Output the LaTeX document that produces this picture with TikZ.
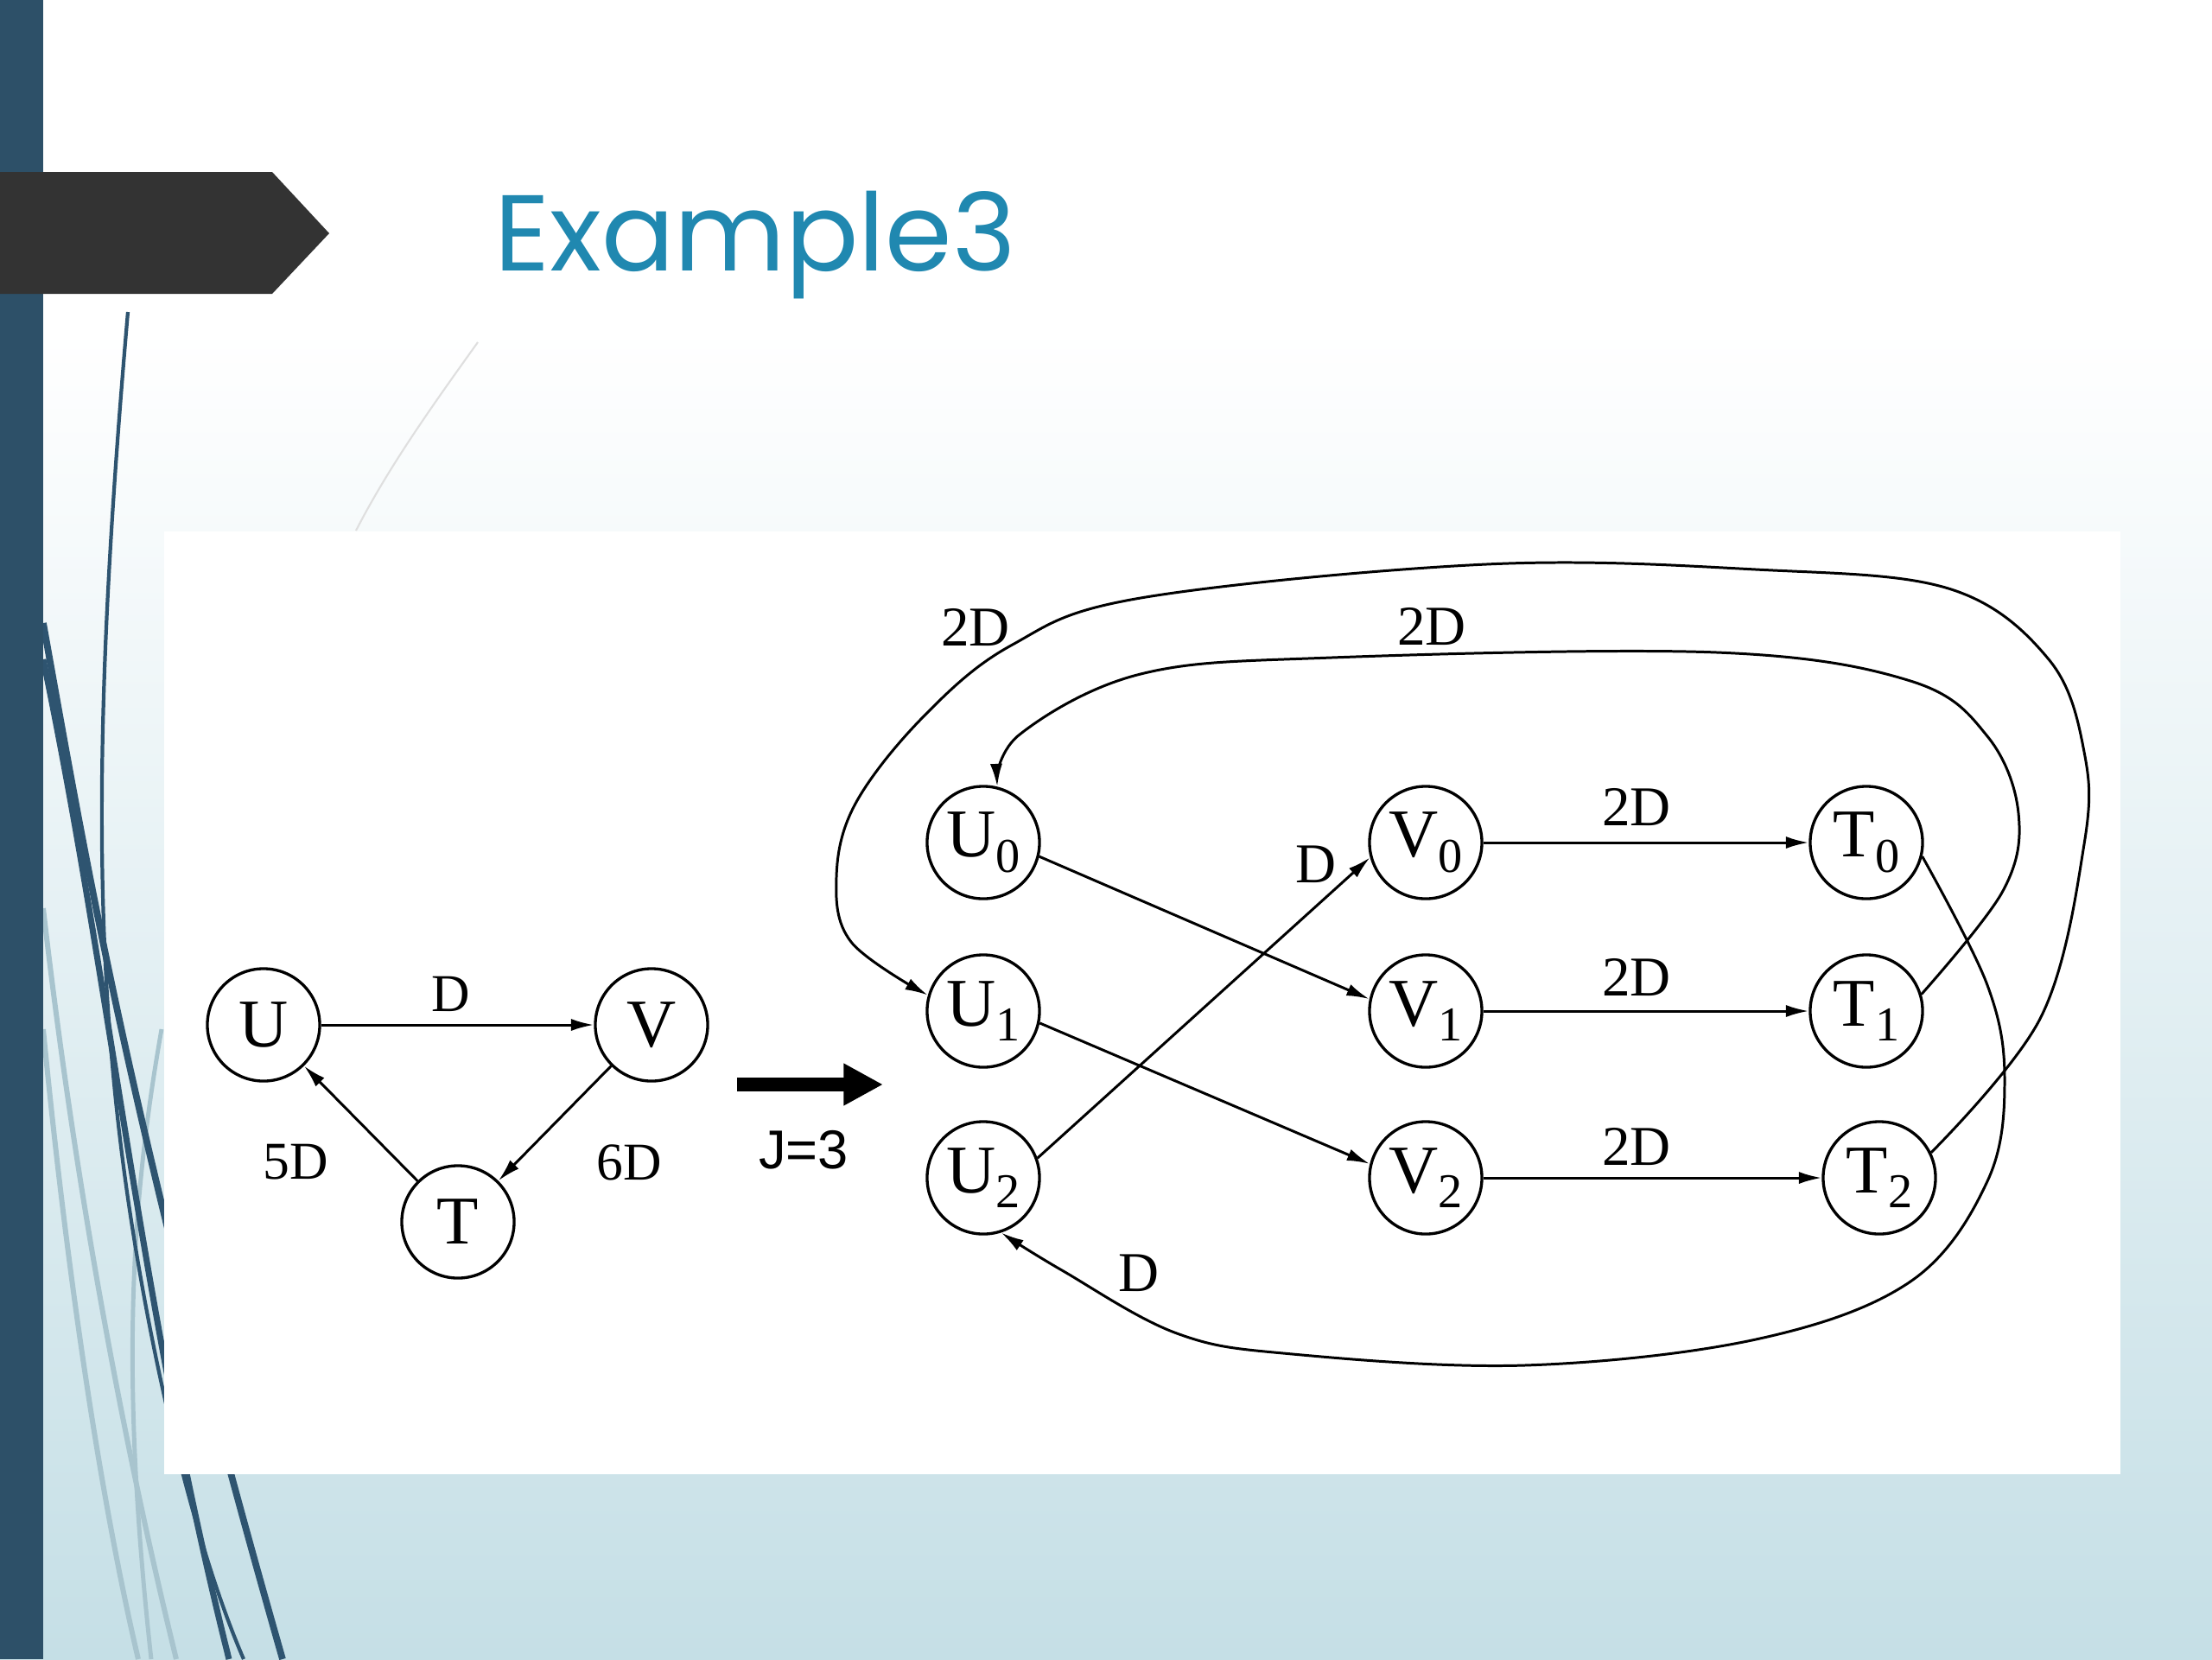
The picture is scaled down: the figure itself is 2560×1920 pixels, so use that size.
\documentclass[tikz,border=0pt]{standalone}
\usepackage{fontspec}
\setmainfont{Liberation Serif}
\newfontfamily\titlefont{Poppins}
\newfontfamily\labelfont{Liberation Sans}
\usetikzlibrary{arrows.meta}

\definecolor{slidebar}{RGB}{45,80,104}
\definecolor{slideband}{RGB}{51,51,51}
\definecolor{slidetitle}{RGB}{32,136,176}
\definecolor{slidesky}{RGB}{197,223,230}
\definecolor{swirldark}{RGB}{46,84,112}
\definecolor{swirllight}{RGB}{168,196,206}

\newcommand{\sub}[2]{#1\raisebox{-5pt}{\fontsize{16}{16}\selectfont #2}}

\tikzset{
  vertex/.style={circle,draw,line width=0.95pt,minimum size=1.3cm,inner sep=0pt,
    font=\fontsize{22.5}{22.5}\selectfont},
  link/.style={-{Latex[length=7.5pt,width=4pt]},line width=0.85pt},
  wlabel/.style={inner sep=0pt,font=\fontsize{18.5}{18.5}\selectfont},
  slabel/.style={inner sep=0pt,font=\fontsize{17.5}{17.5}\selectfont},
}

\begin{document}
\begin{tikzpicture}[x=0.01cm,y=-0.01cm]
\useasboundingbox (0,0) rectangle (2560,1920);

% slide background
\fill[white] (0,0) rectangle (2560,1920);
\shade[top color=white,bottom color=slidesky] (0,380) rectangle (2560,1920);

% swirls on the left
\draw[swirllight,line width=1.7pt] (50,1051) .. controls (90,1400) and (150,1700) .. (204,1920);
\draw[swirllight,line width=1.7pt] (50,1191) .. controls (80,1500) and (120,1750) .. (160,1920);
\draw[swirllight,line width=1.4pt] (187,1191) .. controls (150,1400) and (140,1600) .. (175,1920);
\draw[swirldark,line width=1.2pt] (148,361) .. controls (110,800) and (105,1100) .. (150,1400)
  .. controls (180,1600) and (230,1800) .. (282,1920);
\draw[swirldark,line width=2.2pt] (50,721) .. controls (100,1000) and (150,1300) .. (327,1920);
\draw[swirldark,line width=2pt] (50,763) .. controls (130,1150) and (160,1500) .. (265,1920);
\draw[gray!25,line width=0.6pt] (553,396) .. controls (500,470) and (450,540) .. (412,614);

% bar, band and title
\fill[slidebar] (0,0) rectangle (50,1920);
\fill[slideband] (0,199) -- (315,199) -- (381,270) -- (315,340) -- (0,340) -- cycle;
\node[anchor=base west,inner sep=0pt,text=slidetitle,
  font=\titlefont\fontsize{35.5}{35.5}\selectfont] (title) at (572,313) {Example3};

% picture panel
\fill[white] (190,615) rectangle (2454,1706);

% loop U V T
\node[vertex] (U) at (305,1186) {U};
\node[vertex] (V) at (754,1186) {V};
\node[vertex] (T) at (530,1414) {T};
\draw[link] (U) -- (V);
\draw[link] (V) -- (T);
\draw[link] (T) -- (U);
\node[slabel] (lUV) at (522,1150) {D};
\node[slabel] (lTU) at (342,1345) {5D};
\node[slabel] (lVT) at (728,1345) {6D};

% unfolding arrow
\coordinate (jfrom) at (853,1255);
\coordinate (jto) at (1022,1255);
\draw[line width=4.8pt,-{Triangle[length=13pt,width=13pt]}] (jfrom) -- (jto);
\node[inner sep=0pt,font=\labelfont\fontsize{18}{18}\selectfont] (jlabel) at (930,1331) {J=3};

% unfolded graph
\node[vertex] (U0) at (1138,975) {\sub{U}{0}};
\node[vertex] (U1) at (1138,1170) {\sub{U}{1}};
\node[vertex] (U2) at (1138,1363) {\sub{U}{2}};
\node[vertex] (V0) at (1650,975) {\sub{V}{0}};
\node[vertex] (V1) at (1650,1170) {\sub{V}{1}};
\node[vertex] (V2) at (1650,1363) {\sub{V}{2}};
\node[vertex] (T0) at (2160,975) {\sub{T}{0}};
\node[vertex] (T1) at (2160,1170) {\sub{T}{1}};
\node[vertex] (T2) at (2175,1363) {\sub{T}{2}};

\draw[link] (U0.-14) -- (V1.168);
\draw[link] (U1.-12) -- (V2.166);
\draw[link] (U2.20) -- (V0.195);
\node[wlabel] (lU2V0) at (1523,1000) {D};

\draw[link] (V0) -- (T0);
\draw[link] (V1) -- (T1);
\draw[link] (V2) -- (T2);
\node[wlabel] (lV0T0) at (1894,934) {2D};
\node[wlabel] (lV1T1) at (1894,1131) {2D};
\node[wlabel] (lV2T2) at (1894,1327) {2D};

\draw[link] plot[smooth,tension=0.6] coordinates {(T1.17) (2318,1031) (2336,941) (2300,852)
  (2211,788) (1987,755) (1541,761) (1320,780) (1180,850) (U0.76)};
\draw[link] plot[smooth,tension=0.6] coordinates {(T2.26) (2362,1177) (2412,977) (2412,870)
  (2371,763) (2255,681) (2032,659) (1720,653) (1320,692) (1170,747) (1068,830) (990,930)
  (968,1015) (985,1090) (U1.164)};
\draw[link] plot[smooth,tension=0.6] coordinates {(T0.-14) (2300,1140) (2320,1250) (2300,1367)
  (2211,1483) (2032,1550) (1764,1580) (1496,1567) (1362,1543) (1229,1470) (U2.-72)};
\node[wlabel] (lT2U1) at (1129,726) {2D};
\node[wlabel] (lT1U0) at (1657,725) {2D};
\node[wlabel] (lT0U2) at (1318,1473) {D};
\end{tikzpicture}
\end{document}
